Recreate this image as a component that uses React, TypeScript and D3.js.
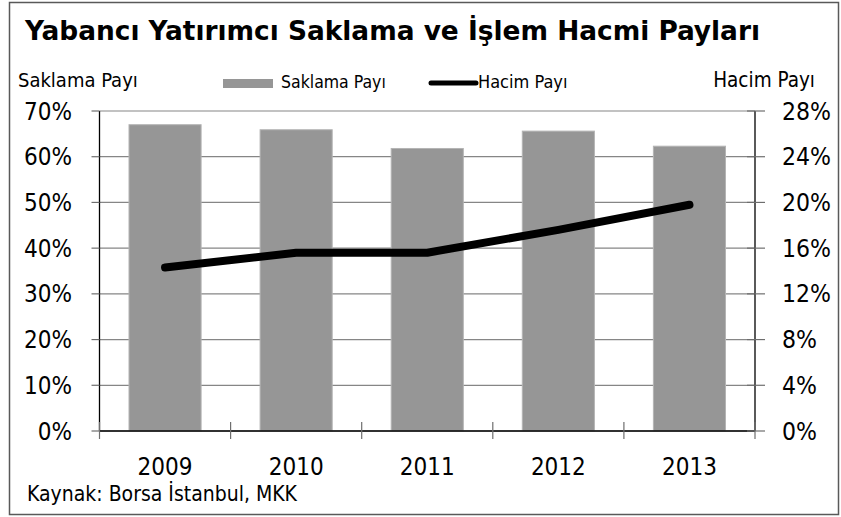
import React from 'react';
import * as d3 from 'd3';

const categories = ['2009', '2010', '2011', '2012', '2013'];
const saklamaPayi = [67.0, 65.9, 61.8, 65.6, 62.3];
const hacimPayi = [14.3, 15.6, 15.6, 17.6, 19.8];
const leftTicks = [0, 10, 20, 30, 40, 50, 60, 70];
const rightTicks = [0, 4, 8, 12, 16, 20, 24, 28];

const W = 841;
const H = 517;
const FONT = '"DejaVu Sans Condensed", "DejaVu Sans", sans-serif';

export default function App() {
  const left = 99.5;
  const right = 755;
  const top = 111;
  const bottom = 431;

  const x = d3.scaleBand<string>().domain(categories).range([left, right]).paddingInner(0.45).paddingOuter(0.225);
  const xOuter = d3.scaleBand<string>().domain(categories).range([left, right]);
  const yL = d3.scaleLinear().domain([0, 70]).range([bottom, top]);
  const yR = d3.scaleLinear().domain([0, 28]).range([bottom, top]);

  const line = d3
    .line<number>()
    .x((_, i) => (xOuter(categories[i]) as number) + xOuter.bandwidth() / 2)
    .y((d) => yR(d));

  const boundaries = categories.map((c) => xOuter(c) as number).concat([right]);

  return (
    <svg width={W} height={H} style={{ position: 'absolute', left: 0, top: 0 }} fontFamily={FONT}>
      <rect x={0} y={0} width={W} height={H} fill="#fff" />
      <rect x={9.5} y={2.5} width={829} height={512} fill="none" stroke="#595959" strokeWidth={1.5} />
      <text x={25} y={40} fontSize={27} fontWeight="bold" textLength={735} lengthAdjust="spacingAndGlyphs" fill="#000">
        Yabancı Yatırımcı Saklama ve İşlem Hacmi Payları
      </text>
      <text x={18} y={87} fontSize={20} fill="#000">Saklama Payı</text>
      <text x={815} y={87} fontSize={20.5} fill="#000" textAnchor="end">Hacim Payı</text>

      {/* legend */}
      <rect x={223} y={79} width={50} height={9} fill="#969696" />
      <text x={281} y={88} fontSize={17.5} fill="#000">Saklama Payı</text>
      <line x1={431} x2={476} y1={83} y2={83} stroke="#000" strokeWidth={5} strokeLinecap="round" />
      <text x={478} y={88} fontSize={18} fill="#000">Hacim Payı</text>

      {/* gridlines */}
      {leftTicks.map((t) => (
        <line key={'g' + t} x1={left} x2={right} y1={yL(t)} y2={yL(t)} stroke="#868686" strokeWidth={1.2} />
      ))}

      {/* bars */}
      {categories.map((c, i) => (
        <rect
          key={c}
          x={x(c)}
          y={yL(saklamaPayi[i])}
          width={x.bandwidth()}
          height={bottom - yL(saklamaPayi[i])}
          fill="#969696"
          stroke="#b4b4b4"
          strokeWidth={1}
        />
      ))}

      {/* axes */}
      <line x1={left} x2={left} y1={top} y2={bottom} stroke="#000" strokeWidth={1.3} />
      <line x1={right} x2={right} y1={top} y2={bottom} stroke="#000" strokeWidth={1.3} />
      <line x1={left} x2={right} y1={bottom} y2={bottom} stroke="#000" strokeWidth={1.3} />

      {leftTicks.map((t) => (
        <g key={'l' + t}>
          <line x1={left - 8} x2={left} y1={yL(t)} y2={yL(t)} stroke="#6e6e6e" strokeWidth={1.2} />
          <text x={72} y={yL(t) + 8.5} fontSize={24} textAnchor="end" fill="#000">
            {t}%
          </text>
        </g>
      ))}
      {rightTicks.map((t) => (
        <g key={'r' + t}>
          <line x1={right - 8} x2={right + 10} y1={yR(t)} y2={yR(t)} stroke="#6e6e6e" strokeWidth={1.2} />
          <text x={782} y={yR(t) + 8.5} fontSize={24.5} fill="#000">
            {t}%
          </text>
        </g>
      ))}
      {boundaries.map((b, i) => (
        <line key={'b' + i} x1={b} x2={b} y1={bottom - 9} y2={bottom + 8} stroke="#6e6e6e" strokeWidth={1.2} />
      ))}
      {categories.map((c) => (
        <text
          key={'c' + c}
          x={(xOuter(c) as number) + xOuter.bandwidth() / 2}
          y={475}
          fontSize={24}
          textAnchor="middle"
          fill="#000"
        >
          {c}
        </text>
      ))}

      <path d={line(hacimPayi) || ''} fill="none" stroke="#000" strokeWidth={8} strokeLinecap="round" strokeLinejoin="round" />

      <text x={27} y={501} fontSize={21} fill="#000">Kaynak: Borsa İstanbul, MKK</text>
    </svg>
  );
}
